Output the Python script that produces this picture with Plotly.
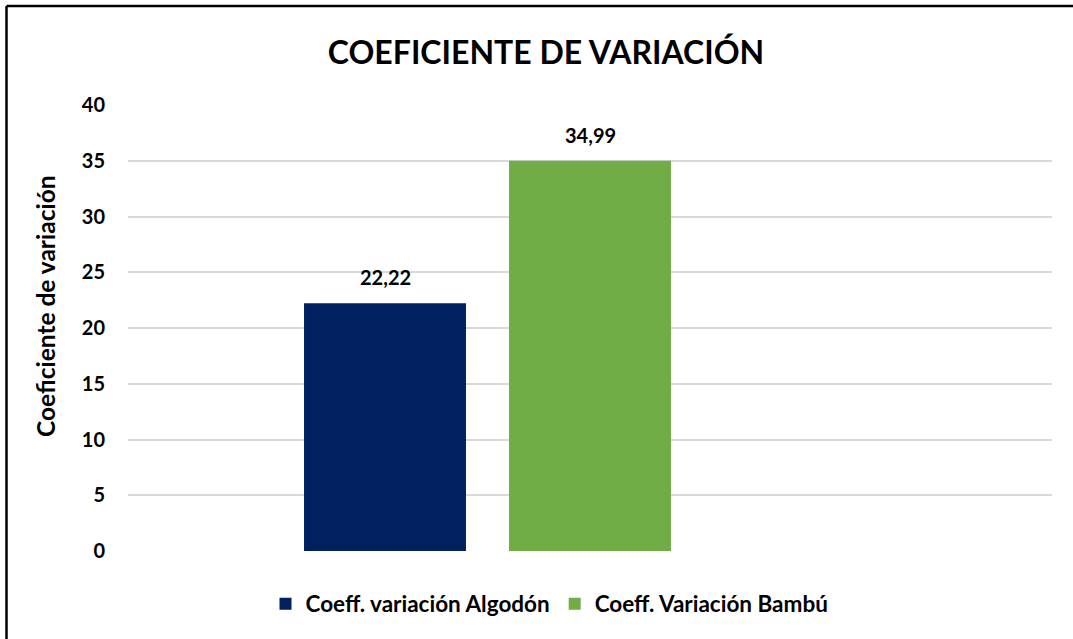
import plotly.graph_objects as go

# Data
category = ["CV"]
series_names = ["Coeff. variación Algodón", "Coeff. Variación Bambú"]
series_values = [[22.22], [34.99]]
series_colors = ["#002060", "#70AD47"]
y_ticks = [0, 5, 10, 15, 20, 25, 30, 35, 40]

FONT = "Lato"
W, H = 1073, 639
L, R, T, B = 128, 21, 105, 88
PW, PH = W - L - R, H - T - B
SLOT = 102.5  # half distance between grouped bar centres, px

fig = go.Figure()
for name, vals, col in zip(series_names, series_values, series_colors):
    fig.add_trace(go.Bar(
        x=category, y=vals, name=name, marker=dict(color=col, line=dict(width=0)),
    ))

annotations = []
for i, vals in enumerate(series_values):
    for c, v in zip(category, vals):
        annotations.append(dict(
            x=c, y=v, xref="x", yref="y", text="<b>%s</b>" % f"{v:.2f}".replace(".", ","),
            showarrow=False, xshift=(-SLOT if i == 0 else SLOT), yshift=26,
            xanchor="center", yanchor="middle",
            font=dict(family=FONT, size=20, color="black")))

annotations.append(dict(text="<b>Coeficiente de variación</b>", textangle=-90,
                        xref="paper", yref="paper", x=(45 - L) / PW,
                        y=(H - B - 306) / PH, xanchor="center", yanchor="middle",
                        showarrow=False, font=dict(family=FONT, size=24.5, color="black")))

bx = (6.5 - L) / PW
by = (H - B - 6) / PH
border = [
    dict(type="line", xref="paper", yref="paper", x0=bx, x1=bx, y0=by, y1=-0.3,
         line=dict(color="black", width=2.5), layer="above"),
    dict(type="line", xref="paper", yref="paper", x0=bx, x1=(W - L) / PW, y0=by, y1=by,
         line=dict(color="black", width=2.5), layer="above"),
]

fig.update_layout(
    width=W, height=H,
    margin=dict(l=L, r=R, t=T, b=B),
    paper_bgcolor="white", plot_bgcolor="white",
    separators=",.",
    barmode="group", bargap=0.5, bargroupgap=0.21,
    showlegend=True,
    legend=dict(orientation="h", x=(549.5 - L) / PW, xanchor="center",
                y=(551 - 604) / PH, yanchor="middle",
                font=dict(family=FONT, size=22.5, color="black", weight="bold"),
                itemwidth=30, traceorder="normal"),
    title=dict(text="<b>COEFICIENTE DE VARIACIÓN</b>", x=546 / W, xref="container",
               xanchor="center", y=1 - 53 / H, yref="container", yanchor="middle",
               font=dict(family=FONT, size=32, color="black")),
    xaxis=dict(range=[-0.4384, 0.6884], showticklabels=False, showgrid=False,
               zeroline=False, showline=False, fixedrange=True),
    yaxis=dict(range=[0, 40], tickvals=y_ticks, showgrid=True, gridcolor="#D9D9D9",
               gridwidth=1.5, zeroline=False, showline=False, ticks="",
               ticklabelstandoff=22,
               tickfont=dict(family=FONT, size=20, color="black", weight="bold")),
    annotations=annotations,
    shapes=border,
)

fig.write_html("out.html", config={"displayModeBar": False},
               post_script="document.body.style.margin='0px';document.body.style.padding='0px';document.body.style.overflow='hidden';")
